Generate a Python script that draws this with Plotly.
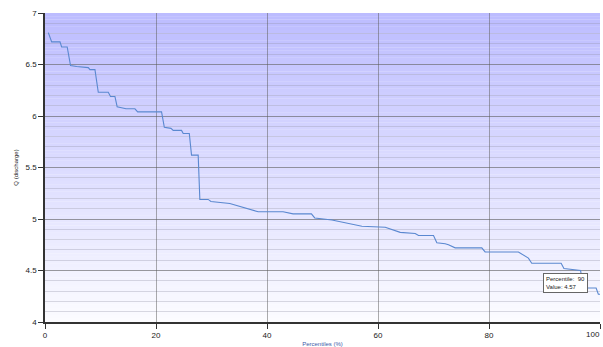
import numpy as np
import plotly.graph_objects as go

# Duration curve: percentile of time (%) vs discharge
percentile = [0.6, 1.2, 2.7, 3.0, 4.0, 4.6, 5.7, 7.8, 8.1, 9.0, 9.6, 11.4, 11.8, 12.6,
              13.0, 14.2, 14.6, 16.2, 16.7, 21.0, 21.5, 22.7, 23.1, 24.6, 24.9, 26.0,
              26.4, 27.6, 27.9, 29.4, 29.9, 33.3, 35.1, 36.3, 38.4, 42.9, 44.7, 48.0,
              48.6, 51.7, 53.5, 55.0, 57.1, 61.3, 64.0, 66.7, 67.3, 70.0, 70.6, 72.1,
              72.7, 73.9, 78.7, 79.3, 85.3, 87.1, 87.7, 93.0, 93.5, 96.5, 97.0, 99.3,
              99.7, 100.0]
discharge = [6.81, 6.72, 6.72, 6.67, 6.67, 6.49, 6.48, 6.47, 6.45, 6.45, 6.23, 6.23, 6.19, 6.19,
             6.09, 6.08, 6.07, 6.07, 6.04, 6.04, 5.89, 5.88, 5.86, 5.86, 5.83, 5.83,
             5.62, 5.62, 5.19, 5.19, 5.17, 5.15, 5.12, 5.10, 5.07, 5.07, 5.05, 5.05,
             5.01, 4.99, 4.97, 4.96, 4.93, 4.92, 4.87, 4.86, 4.84, 4.84, 4.77, 4.76,
             4.75, 4.72, 4.72, 4.68, 4.68, 4.62, 4.57, 4.57, 4.52, 4.50, 4.33, 4.33,
             4.27, 4.27]

x_ticks = [0, 20, 40, 60, 80, 100]
y_ticks = [4, 4.5, 5, 5.5, 6, 6.5, 7]
y_tick_text = ["4", "4.5", "5", "5.5", "6", "6.5", "7"]

hover_pct = 90
hover_val = 4.57

X_MIN, X_MAX = 0, 100
Y_MIN, Y_MAX = 4, 7

fig = go.Figure()

fig.add_trace(go.Scatter(
    x=percentile, y=discharge, mode="lines",
    line=dict(color="#5a88d0", width=1.1),
    hoverinfo="skip", showlegend=False,
))

# Vertical gradient backdrop: pale at the bottom, lavender-blue at the top
n_bands = 90
top_rgb = np.array([188, 188, 255])
bot_rgb = np.array([252, 252, 255])
edges = np.linspace(Y_MIN, Y_MAX, n_bands + 1)
shapes = []
for i in range(n_bands):
    t = (i + 0.5) / n_bands
    c = (bot_rgb + (top_rgb - bot_rgb) * t).round().astype(int)
    shapes.append(dict(
        type="rect", xref="x", yref="y", layer="below",
        x0=X_MIN, x1=X_MAX, y0=edges[i], y1=edges[i + 1] + 0.002,
        fillcolor=f"rgb({c[0]},{c[1]},{c[2]})", line=dict(width=0),
    ))

fig.update_layout(
    width=603, height=347,
    margin=dict(l=45, r=3, t=13, b=25),
    paper_bgcolor="white",
    plot_bgcolor="white",
    shapes=shapes,
    font=dict(family="Liberation Sans, Arial, sans-serif", size=8, color="#222"),
    showlegend=False,
)

fig.update_xaxes(
    range=[X_MIN, X_MAX], tickvals=x_ticks,
    ticks="outside", ticklen=5, tickcolor="#333", tickwidth=1,
    showline=True, linecolor="#333", linewidth=1.5,
    showgrid=True, gridcolor="rgba(90,90,90,0.5)", gridwidth=1,
    zeroline=False, automargin=False,
    tickfont=dict(size=8, color="#222"),
    title=dict(text="Percentiles (%)", font=dict(size=6, color="#3a5aa8"), standoff=6),
)

fig.update_yaxes(
    range=[Y_MIN, Y_MAX], tickvals=y_ticks, ticktext=y_tick_text,
    ticks="outside", ticklen=5, tickcolor="#333", tickwidth=1,
    showline=True, linecolor="#333", linewidth=1.5,
    showgrid=True, gridcolor="rgba(90,90,90,0.5)", gridwidth=1,
    minor=dict(dtick=0.1, showgrid=True, gridcolor="rgba(150,150,170,0.35)", gridwidth=1, ticks=""),
    zeroline=False, automargin=False,
    tickfont=dict(size=8, color="#222"),
    title=dict(text="Q (discharge)", font=dict(size=6, color="#222"), standoff=6),
)

# Last x label sits against the right edge of the canvas
fig.add_annotation(
    x=1, y=0, xref="paper", yref="paper", xanchor="right", yanchor="top",
    xshift=2, yshift=-6,
    showarrow=False, text=str(x_ticks[-1]), font=dict(size=8, color="#222"),
)

# Hover readout box at the 90th percentile
fig.add_annotation(
    x=hover_pct - 0.3, y=hover_val - 0.09, xref="x", yref="y",
    xanchor="left", yanchor="top", showarrow=False, align="left",
    text=f"Percentile:  {hover_pct}<br>Value: {hover_val}",
    font=dict(size=6, color="#222"),
    bgcolor="white", bordercolor="#666", borderwidth=1, borderpad=2,
)

fig.write_html("out.html")
